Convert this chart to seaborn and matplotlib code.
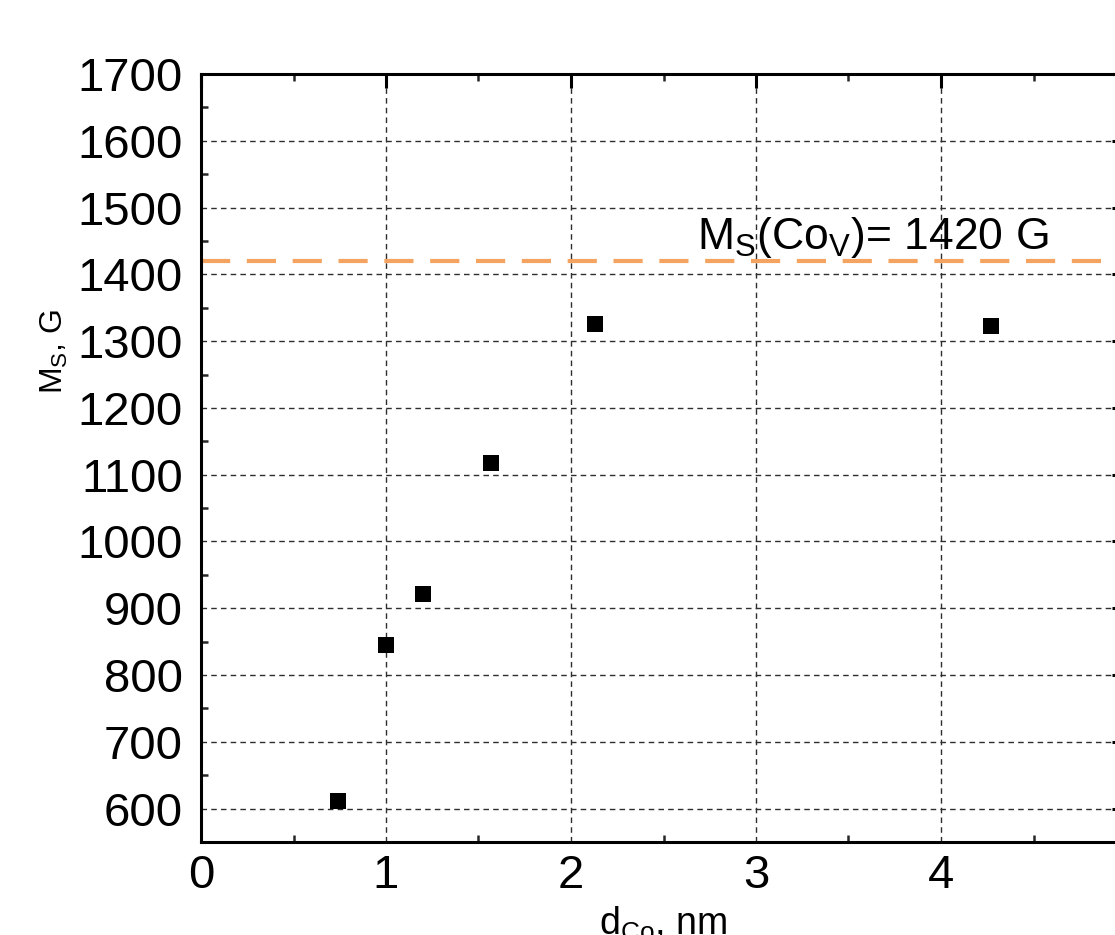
import matplotlib
matplotlib.use("Agg")
import matplotlib.pyplot as plt
import seaborn as sns
import pandas as pd
from matplotlib.ticker import MultipleLocator

# Data
d_co = [0.74, 1.0, 1.2, 1.57, 2.13, 4.27]
ms_values = [612, 845, 921, 1118, 1325, 1322]
ms_bulk = 1420
x_ticks = [0, 1, 2, 3, 4, 5]
x_tick_labels = ["0", "1", "2", "3", "4", ""]
annotation = r"M$_\mathregular{S}$(Co$_\mathregular{V}$)= 1420 G"
x_label = r"d$_\mathregular{Co}$, nm"
y_label = r"M$_\mathregular{S}$, G"

df = pd.DataFrame({"d": d_co, "Ms": ms_values})

sns.set_theme(style="white")
plt.rcParams["font.family"] = ["Liberation Sans", "DejaVu Sans"]
plt.rcParams["mathtext.fontset"] = "custom"
plt.rcParams["mathtext.rm"] = "Liberation Sans"
plt.rcParams["mathtext.it"] = "Liberation Sans"
plt.rcParams["text.color"] = "black"
plt.rcParams["axes.labelcolor"] = "black"

fig = plt.figure(figsize=(11.15, 9.35), dpi=100)
ax = fig.add_axes([201/1115, 1 - 842/935, 925/1115, 768/935])

ax.set_xlim(0, 5)
ax.set_ylim(550, 1700)

ax.set_xticks(x_ticks)
ax.set_xticklabels(x_tick_labels)
ax.xaxis.set_minor_locator(MultipleLocator(0.5))
ax.yaxis.set_major_locator(MultipleLocator(100))
ax.yaxis.set_minor_locator(MultipleLocator(50))

ax.grid(True, which="major", color="#2e2e2e", linestyle=(0, (4, 3)), linewidth=1.0)
ax.set_axisbelow(True)

ax.axhline(ms_bulk, color="#F4A460", linestyle=(0, (7, 4)), linewidth=3, zorder=2)

sns.scatterplot(data=df, x="d", y="Ms", marker="s", s=140, color="black",
                edgecolor="black", linewidth=0, ax=ax, zorder=3)

ax.text(2.68, 1438, annotation, fontsize=32, ha="left", va="baseline", color="black")

for sp in ax.spines.values():
    sp.set_linewidth(2.2)
    sp.set_color("black")

ax.tick_params(which="major", direction="in", length=10, width=2.2,
               top=True, right=True, labelsize=34, colors="black")
ax.tick_params(axis="x", which="major", pad=9)
ax.tick_params(axis="y", which="major", pad=13)
ax.tick_params(which="minor", direction="in", length=5, width=1.8,
               top=True, right=True, bottom=True, left=True)

ax.set_xlabel(x_label, fontsize=27, color="black")
ax.set_ylabel(y_label, fontsize=23, color="black")
ax.xaxis.set_label_coords(0.5, -0.081)
ax.xaxis.label.set_va("top")
ax.yaxis.set_label_coords(-0.142, 0.639)

fig.savefig("out.png", dpi=100)
